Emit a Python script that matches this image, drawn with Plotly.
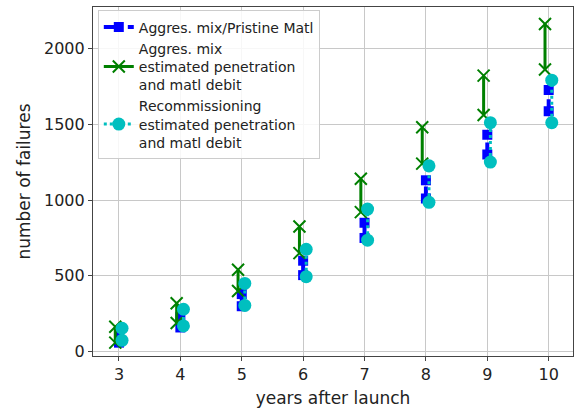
import plotly.graph_objects as go

# Years after launch and the low/high failure counts for each scenario
years = [3, 4, 5, 6, 7, 8, 9, 10]

pristine_low = [60, 160, 300, 505, 750, 1010, 1300, 1585]
pristine_high = [120, 230, 380, 600, 850, 1130, 1430, 1725]

aggres_low = [60, 190, 400, 650, 920, 1240, 1560, 1860]
aggres_high = [165, 320, 540, 825, 1140, 1480, 1820, 2160]

recomm_low = [75, 170, 305, 495, 735, 985, 1250, 1510]
recomm_high = [155, 280, 450, 675, 940, 1225, 1510, 1790]

# small horizontal shifts so the three ranges don't sit on top of each other
aggres_shift = -0.06
recomm_shift = 0.05


def range_segments(xs, lows, highs, shift=0.0):
    """Build x/y lists of vertical low-high segments separated by gaps."""
    sx, sy = [], []
    for x, lo, hi in zip(xs, lows, highs):
        sx += [x + shift, x + shift, None]
        sy += [lo, hi, None]
    return sx, sy


fig = go.Figure()

bx, by = range_segments(years, pristine_low, pristine_high)
fig.add_trace(go.Scatter(
    x=bx, y=by, mode="lines+markers", name="Aggres. mix/Pristine Matl",
    line=dict(color="blue", width=4, dash="dash"),
    marker=dict(symbol="square", size=10, color="blue"),
    connectgaps=False,
))

gx, gy = range_segments(years, aggres_low, aggres_high, aggres_shift)
fig.add_trace(go.Scatter(
    x=gx, y=gy, mode="lines+markers",
    name="Aggres. mix<br>estimated penetration<br>and matl debit",
    line=dict(color="green", width=3),
    marker=dict(symbol="x-thin", size=12, color="green",
                line=dict(color="green", width=2)),
    connectgaps=False,
))

cx, cy = range_segments(years, recomm_low, recomm_high, recomm_shift)
fig.add_trace(go.Scatter(
    x=cx, y=cy, mode="lines+markers",
    name="Recommissioning<br>estimated penetration<br>and matl debit",
    line=dict(color="#00bfbf", width=3, dash="dot"),
    marker=dict(symbol="circle", size=13, color="#00bfbf"),
    connectgaps=False,
))

axis_common = dict(
    showgrid=True, gridcolor="#c8c8c8", gridwidth=1,
    showline=True, linecolor="#444", linewidth=1.2, mirror=True,
    ticks="outside", ticklen=4, tickcolor="#444",
    tickfont=dict(size=16, color="#222"),
    zeroline=False,
)

fig.update_layout(
    width=577, height=411,
    margin=dict(l=93, r=4, t=7, b=55),
    paper_bgcolor="white", plot_bgcolor="white",
    font=dict(family="DejaVu Sans", color="#222"),
    xaxis=dict(
        **axis_common,
        range=[2.577, 10.396],
        tickvals=years,
        title=dict(text="years after launch", font=dict(size=17), standoff=8),
    ),
    yaxis=dict(
        **axis_common,
        range=[-28, 2272],
        tickvals=[0, 500, 1000, 1500, 2000],
        title=dict(text="number of failures", font=dict(size=17), standoff=9),
    ),
    legend=dict(
        x=0.01, y=0.99, xanchor="left", yanchor="top",
        bgcolor="rgba(255,255,255,0.85)", bordercolor="#ccc", borderwidth=1,
        font=dict(size=14, color="#222"),
        tracegroupgap=0,
    ),
)

fig.write_html("out.html")
